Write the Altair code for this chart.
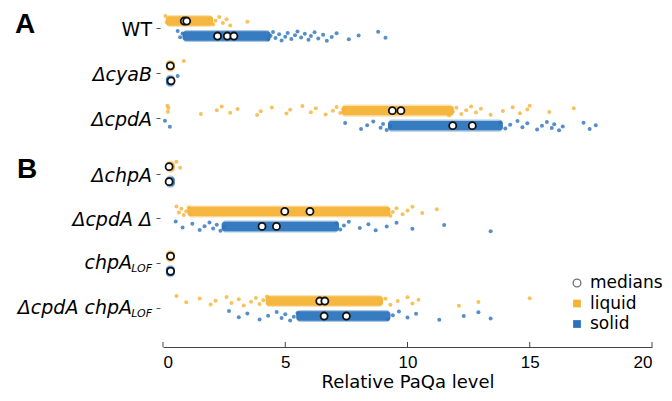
import altair as alt
import pandas as pd

# ---------------- data ----------------
genotypes = ["WT", "ΔcyaB", "ΔcpdA", "ΔchpA", "ΔcpdA Δ", "chpA LOF", "ΔcpdA chpA LOF"]
row_pos = [0, 1, 2, 3.25, 4.25, 5.25, 6.25]
media = ["liquid", "solid"]

# dense core of each strip (where the points merge into a solid band)
core_lo_liquid = [0.12, 0.12, 7.3, 0.12, 1.0, 0.12, 4.2]
core_hi_liquid = [2.05, 0.48, 11.9, 0.48, 9.3, 0.48, 9.0]
core_lo_solid = [0.8, 0.12, 9.2, 0.12, 2.4, 0.12, 5.45]
core_hi_solid = [4.4, 0.48, 13.9, 0.48, 7.2, 0.48, 9.3]

# medians (replicates)
medians_liquid = [[0.87, 0.97], [0.30], [9.38, 9.73], [0.25], [4.98, 6.01], [0.31], [6.41, 6.62]]
medians_solid = [[2.23, 2.63, 2.90], [0.33], [11.85, 12.65], [0.25], [4.05, 4.64], [0.31], [6.59, 7.50]]

# individual cells outside / at the edges of the dense cores
points_liquid = [
    [0.1, 0.15, 1.95, 2.05, 2.15, 2.3, 2.45, 2.6, 2.75, 3.45],
    [0.85],
    [0.18, 0.2, 0.22, 1.55, 2.2, 2.4, 2.75, 3.05, 3.85, 4.0, 4.45, 5.05, 5.2, 5.7, 6.05,
     6.25, 6.65, 6.95, 7.1, 7.25, 7.4, 11.7, 11.85, 12.0, 12.2, 12.4, 12.6, 12.8, 13.0,
     13.4, 13.9, 14.3, 14.6, 14.9, 15.0, 15.8, 16.8],
    [0.55, 0.7],
    [0.55, 0.65, 0.75, 0.85, 0.95, 1.05, 1.15, 9.2, 9.3, 9.4, 9.55, 9.8, 10.0, 10.2, 10.6,
     11.2],
    [],
    [0.55, 0.95, 1.5, 1.95, 2.15, 2.6, 2.8, 3.1, 3.3, 3.6, 3.8, 3.95, 4.1, 4.25, 8.9, 9.1,
     9.3, 9.6, 10.0, 10.2, 10.45, 12.1, 12.9, 15.0],
]
points_solid = [
    [0.6, 0.7, 0.8, 4.3, 4.4, 4.5, 4.6, 4.75, 4.85, 5.0, 5.1, 5.25, 5.4, 5.5, 5.65, 5.8,
     5.95, 6.05, 6.2, 6.35, 6.55, 6.7, 6.9, 7.1, 7.6, 8.0, 8.8, 9.1],
    [0.6],
    [0.08, 0.28, 7.45, 8.1, 8.35, 8.6, 8.9, 9.0, 9.15, 9.3, 13.8, 14.0, 14.2, 14.5, 14.7,
     14.9, 15.3, 15.5, 15.7, 15.9, 16.0, 16.2, 16.35, 17.2, 17.45, 17.7],
    [],
    [0.52, 0.8, 1.2, 1.5, 1.7, 1.9, 2.05, 2.2, 2.35, 2.5, 7.1, 7.25, 7.4, 7.6, 8.05, 8.4,
     8.7, 9.15, 9.55, 10.2, 11.5, 13.4],
    [],
    [2.7, 3.1, 3.45, 3.95, 4.3, 4.65, 4.85, 5.0, 5.2, 5.35, 5.5, 9.2, 9.4, 9.65, 10.0,
     10.35, 11.3, 12.3, 12.9, 13.4],
]

x_ticks = [0, 5, 10, 15, 20]
legend_items = ["medians", "liquid", "solid"]

# ---------------- tables ----------------
cores, pts, meds = [], [], []
for i, g in enumerate(genotypes):
    for m, lo, hi, pl, ml in [
        ("liquid", core_lo_liquid[i], core_hi_liquid[i], points_liquid[i], medians_liquid[i]),
        ("solid", core_lo_solid[i], core_hi_solid[i], points_solid[i], medians_solid[i]),
    ]:
        cores.append({"genotype": g, "row": row_pos[i], "medium": m, "x": lo, "x2": hi})
        for k, v in enumerate(pl):
            pts.append({"genotype": g, "row": row_pos[i], "medium": m, "x": v, "k": k})
        for v in ml:
            meds.append({"genotype": g, "row": row_pos[i], "medium": m, "x": v})
cores = pd.DataFrame(cores)
pts = pd.DataFrame(pts)
meds = pd.DataFrame(meds)

SIDE = "(datum.medium == 'liquid' ? -0.156 : 0.179)"

ORANGE = "#F5B335"
BLUE = "#2A72BB"
color = alt.Color("medium:N", scale=alt.Scale(domain=media, range=[ORANGE, BLUE]), legend=None)

xscale = alt.Scale(domain=[0, 20], nice=False, zero=False)
yscale = alt.Scale(domain=[-0.402, 7.12], reverse=True, nice=False, zero=False)

X = alt.X("x:Q", scale=xscale,
          axis=alt.Axis(values=x_ticks, ticks=False, grid=False, domainColor="#444",
                        labelFont="Liberation Sans", labelFontSize=17, labelColor="black",
                        labelPadding=7, title="Relative PaQa level", titleFont="DejaVu Sans",
                        titleFontSize=18, titleFontWeight="normal", titleColor="black",
                        titlePadding=3))
Y = alt.Y("yp:Q", scale=yscale,
          axis=alt.Axis(values=row_pos, labels=False, ticks=True, tickSize=4, tickColor="#555",
                        domain=False, grid=False, title=None, offset=3))

halo_layer = alt.Chart(cores).transform_calculate(
    yp=f"datum.row + {SIDE} - 0.135", yp2=f"datum.row + {SIDE} + 0.135"
).mark_rect(cornerRadius=4, opacity=0.4).encode(
    x=X, x2="x2:Q", y=Y, y2="yp2:Q", color=color
)
core_layer = alt.Chart(cores).transform_calculate(
    yp=f"datum.row + {SIDE} - 0.105", yp2=f"datum.row + {SIDE} + 0.105"
).mark_rect(cornerRadius=3, opacity=0.9).encode(
    x=X, x2="x2:Q", y=Y, y2="yp2:Q", color=color
)

pt_layer = alt.Chart(pts).transform_calculate(
    yp=f"datum.row + {SIDE} + (((datum.k * 0.6180339) % 1) - 0.5) * 0.22"
).mark_circle(size=16, opacity=0.8).encode(x=X, y=Y, color=color)

med_layer = alt.Chart(meds).transform_calculate(
    yp=f"datum.row + {SIDE}"
).mark_point(shape="circle", size=50, filled=True, fill="white", stroke="#111",
             strokeWidth=1.8, opacity=1).encode(x=X, y=Y)

tick_layer = alt.Chart(pd.DataFrame({"x": x_ticks})).mark_rule(color="#444").encode(
    x=X, y=alt.value(332), y2=alt.value(337)
)

# ---------------- genotype labels ----------------
lab = pd.DataFrame({"yp": row_pos, "g": genotypes})
plain = lab[lab.g == "WT"]
ital = lab[lab.g.isin(["ΔcyaB", "ΔcpdA", "ΔchpA", "ΔcpdA Δ"])]
subs = lab[lab.g.str.endswith("LOF")].copy()
subs["main"] = subs.g.str.replace(" LOF", "", regex=False)
subs["sub"] = "LOF"

lab_font = "DejaVu Sans"
t_plain = alt.Chart(plain).mark_text(align="right", baseline="middle", font=lab_font,
                                     fontSize=19, dy=2, color="black").encode(
    x=alt.value(-11), y=Y, text="g:N")
t_ital = alt.Chart(ital).mark_text(align="right", baseline="middle", font=lab_font,
                                   fontSize=19, fontStyle="italic", dy=2, color="black").encode(
    x=alt.value(-11), y=Y, text="g:N")
t_main = alt.Chart(subs).mark_text(align="right", baseline="middle", font=lab_font,
                                   fontSize=19, fontStyle="italic", dy=0, color="black").encode(
    x=alt.value(-31), y=Y, text="main:N")
t_sub = alt.Chart(subs).mark_text(align="right", baseline="middle", font=lab_font,
                                  fontSize=11, fontStyle="italic", dy=6, color="black").encode(
    x=alt.value(-11), y=Y, text="sub:N")

panelA = alt.Chart(pd.DataFrame({"t": ["A"]})).mark_text(
    align="left", baseline="alphabetic", font="Liberation Sans", fontSize=28,
    fontWeight="bold", color="black").encode(x=alt.value(-148), y=alt.value(23), text="t:N")
panelB = alt.Chart(pd.DataFrame({"t": ["B"]})).mark_text(
    align="left", baseline="alphabetic", font="Liberation Sans", fontSize=28,
    fontWeight="bold", color="black").encode(x=alt.value(-146), y=alt.value(168), text="t:N")

# ---------------- legend ----------------
leg_y = [273, 293.5, 314]
leg_layers = []
leg_layers.append(alt.Chart(pd.DataFrame({"t": [legend_items[0]]})).mark_point(
    shape="circle", size=60, filled=False, stroke="#333", strokeWidth=1.3).encode(
    x=alt.value(414), y=alt.value(leg_y[0])))
for c, yy in [(ORANGE, leg_y[1]), (BLUE, leg_y[2])]:
    leg_layers.append(alt.Chart(pd.DataFrame({"t": ["s"]})).mark_square(
        size=60, color=c, opacity=1).encode(x=alt.value(414), y=alt.value(yy)))
for t, yy in zip(legend_items, leg_y):
    leg_layers.append(alt.Chart(pd.DataFrame({"t": [t]})).mark_text(
        align="left", baseline="middle", font="DejaVu Sans", fontSize=17, color="black").encode(
        x=alt.value(427), y=alt.value(yy), text="t:N"))

chart = alt.layer(
    halo_layer, core_layer, pt_layer, med_layer, tick_layer,
    t_plain, t_ital, t_main, t_sub, panelA, panelB, *leg_layers
).properties(
    width=489, height=337,
    padding={"left": 155, "top": 2, "right": 12, "bottom": 46},
    autosize=alt.AutoSizeParams(type="none"),
    background="white",
).configure_view(stroke=None)

chart.save("out.html", embed_options={"renderer": "svg", "actions": False})
